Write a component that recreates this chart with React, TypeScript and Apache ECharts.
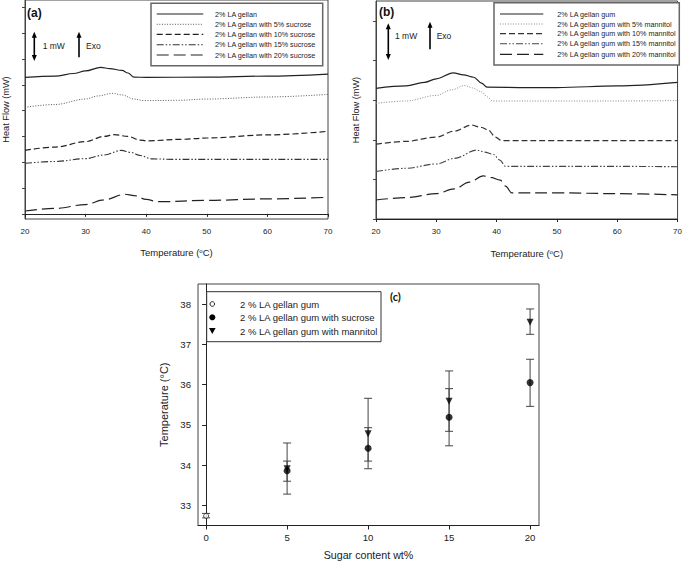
import React, { useEffect, useRef } from "react";
import * as echarts from "echarts";

// ---------- Panel (a): DSC curves, sucrose ----------
const namesA = [
  "2% LA gellan",
  "2% LA gellan with 5% sucrose",
  "2% LA gellan with 10% sucrose",
  "2% LA gellan with 15% sucrose",
  "2% LA gellan with 20% sucrose",
];
const a0T = [20, 25, 28, 30, 32.5, 34, 36, 37, 38, 40, 50, 60, 70];
const a0H = [5.29, 5.34, 5.44, 5.54, 5.68, 5.63, 5.56, 5.46, 5.3, 5.29, 5.3, 5.34, 5.42];
const a1T = [20, 25, 30, 32, 34.4, 36, 38, 39.5, 45, 50, 60, 70];
const a1H = [4.13, 4.24, 4.45, 4.57, 4.67, 4.61, 4.45, 4.39, 4.4, 4.45, 4.53, 4.63];
const a2T = [20, 25, 30, 33, 34.7, 37, 39, 40, 46, 50, 60, 70];
const a2H = [2.46, 2.59, 2.8, 3.0, 3.07, 3.0, 2.86, 2.83, 2.89, 2.94, 3.06, 3.2];
const a3T = [20, 25, 30, 33, 35.9, 37.5, 39, 40.9, 45, 50, 60, 70];
const a3H = [1.96, 2.03, 2.14, 2.28, 2.46, 2.38, 2.26, 2.13, 2.11, 2.11, 2.11, 2.11];
const a4T = [20, 25, 30, 33, 36.5, 38, 40, 42, 50, 60, 70];
const a4H = [0.11, 0.21, 0.36, 0.54, 0.76, 0.71, 0.56, 0.47, 0.52, 0.58, 0.64];

// ---------- Panel (b): DSC curves, mannitol ----------
const namesB = [
  "2% LA gellan gum",
  "2% LA gellan gum with 5% mannitol",
  "2% LA gellan gum with 10% mannitol",
  "2% LA gellan gum with 15% mannitol",
  "2% LA gellan gum with 20% mannitol",
];
const b0T = [20, 25, 28, 30, 32.8, 34.5, 36.2, 37.5, 38.4, 45, 50, 60, 70];
const b0H = [3.3, 3.36, 3.45, 3.54, 3.69, 3.64, 3.58, 3.43, 3.33, 3.32, 3.32, 3.36, 3.45];
const b1T = [20, 25, 30, 32.5, 34.7, 36, 37.5, 38.5, 39.3, 50, 60, 70];
const b1H = [2.92, 2.98, 3.12, 3.26, 3.37, 3.31, 3.21, 3.08, 2.98, 2.98, 2.98, 2.99];
const b2T = [20, 25, 30, 33, 35.8, 37.5, 38.6, 39.8, 40.8, 50, 60, 70];
const b2H = [1.89, 1.96, 2.07, 2.22, 2.37, 2.31, 2.25, 2.07, 1.98, 1.98, 1.98, 1.98];
const b3T = [20, 25, 30, 33, 36.7, 38, 39.5, 40.5, 41.5, 50, 60, 70];
const b3H = [1.2, 1.28, 1.39, 1.53, 1.74, 1.69, 1.63, 1.49, 1.33, 1.33, 1.33, 1.32];
const b4T = [20, 25, 30, 33, 35.5, 37.8, 39, 40.6, 41.5, 42.5, 50, 60, 70];
const b4H = [0.48, 0.54, 0.64, 0.76, 0.93, 1.09, 1.05, 0.98, 0.83, 0.66, 0.66, 0.64, 0.61];

const tempTicks = [20, 30, 40, 50, 60, 70];
const hfTicksA = [0, 1, 2, 3, 4, 5, 6, 7, 8];
const hfTicksB = [0, 1, 2, 3, 4, 5];

// ---------- Panel (c): peak temperatures ----------
const sugarContent = [5, 10, 15, 20];
const controlContent = [0];
const controlMean = [32.74];
const controlLo = [32.69];
const controlHi = [32.8];
const sucroseMean = [33.86, 34.42, 35.19, 36.05];
const sucroseLo = [33.6, 33.91, 34.48, 35.46];
const sucroseHi = [34.1, 34.93, 35.9, 36.63];
const mannitolMean = [33.91, 34.78, 35.59, 37.55];
const mannitolLo = [33.28, 34.1, 34.84, 37.25];
const mannitolHi = [34.55, 35.66, 36.34, 37.88];
const cXTicks = [0, 5, 10, 15, 20];
const cYTicks = [33, 34, 35, 36, 37, 38];
const namesC = [
  "2 % LA gellan gum",
  "2 % LA gellan gum with sucrose",
  "2 % LA gellan gum with mannitol",
];

const FONT = "'Liberation Sans', Arial, sans-serif";

const lineStyles = [
  { type: "solid", color: "#222", width: 1.2 },
  { type: [1, 1.6], color: "#555", width: 1 },
  { type: [6, 3], color: "#222", width: 1.2 },
  { type: [7, 2, 1.5, 2, 1.5, 2], color: "#333", width: 1.1 },
  { type: [12, 5], color: "#222", width: 1.2 },
];
const lineStylesB = [
  { type: "solid", color: "#222", width: 1.2 },
  { type: [1, 1.6], color: "#888", width: 1 },
  { type: [6, 3], color: "#333", width: 1.2 },
  { type: [7, 2, 1.5, 2, 1.5, 2], color: "#444", width: 1.1 },
  { type: [12, 5], color: "#222", width: 1.2 },
];

const zip = (xs: number[], ys: number[]) => xs.map((x, i) => [x, ys[i]]);
const zip3 = (xs: number[], a: number[], b: number[]) => xs.map((x, i) => [x, a[i], b[i]]);

function errRender(params: any, api: any) {
  const x = api.value(0);
  const p1 = api.coord([x, api.value(1)]);
  const p2 = api.coord([x, api.value(2)]);
  const hw = 4;
  const st = { stroke: "#444", lineWidth: 1 };
  return {
    type: "group",
    children: [
      { type: "line", shape: { x1: p1[0], y1: p1[1], x2: p2[0], y2: p2[1] }, style: st },
      { type: "line", shape: { x1: p1[0] - hw, y1: p1[1], x2: p1[0] + hw, y2: p1[1] }, style: st },
      { type: "line", shape: { x1: p2[0] - hw, y1: p2[1], x2: p2[0] + hw, y2: p2[1] }, style: st },
    ],
  };
}

function arrow(x: number, y1: number, y2: number, both: boolean) {
  const els: any[] = [
    { type: "line", shape: { x1: x, y1: y1 + 3, x2: x, y2: both ? y2 - 3 : y2 }, style: { stroke: "#000", lineWidth: 1.6 } },
    { type: "polygon", shape: { points: [[x, y1], [x - 2.5, y1 + 6], [x + 2.5, y1 + 6]] }, style: { fill: "#000" } },
  ];
  if (both) {
    els.push({ type: "polygon", shape: { points: [[x, y2], [x - 2.5, y2 - 6], [x + 2.5, y2 - 6]] }, style: { fill: "#000" } });
  }
  return els;
}

function legendBox(x: number, y: number, w: number, h: number, lx1: number, lx2: number, tx: number, rows: number[], names: string[], styles: any[]) {
  const els: any[] = [
    { type: "rect", shape: { x, y, width: w, height: h }, style: { fill: "#fff", stroke: "#666", lineWidth: 1.5 }, z: 10 },
  ];
  rows.forEach((ry, i) => {
    els.push({
      type: "line",
      shape: { x1: lx1, y1: ry, x2: lx2, y2: ry },
      style: { stroke: styles[i].color, lineWidth: styles[i].width, lineDash: styles[i].type === "solid" ? null : styles[i].type },
      z: 11,
    });
    els.push({
      type: "text",
      x: tx,
      y: ry,
      style: { text: names[i], fontSize: 7.2, fontFamily: FONT, fill: "#222", verticalAlign: "middle" },
      z: 11,
    });
  });
  return els;
}

export default function App() {
  const ref = useRef<HTMLDivElement>(null);
  useEffect(() => {
    if (!ref.current) return;
    const chart = echarts.init(ref.current, null, { renderer: "svg" });
    const seriesA = [zip(a0T, a0H), zip(a1T, a1H), zip(a2T, a2H), zip(a3T, a3H), zip(a4T, a4H)];
    const seriesB = [zip(b0T, b0H), zip(b1T, b1H), zip(b2T, b2H), zip(b3T, b3H), zip(b4T, b4H)];

    const tempName = (fs: number) => ({
      name: "Temperature ({sup|o}C)",
      nameLocation: "middle",
      nameTextStyle: {
        fontSize: fs,
        fontFamily: FONT,
        color: "#222",
        rich: { sup: { fontSize: fs * 0.65, fontFamily: FONT, color: "#222", verticalAlign: "top", lineHeight: fs * 1.2 } },
      },
    });

    const hfAxisCommon = {
      type: "value",
      name: "Heat Flow (mW)",
      nameLocation: "middle",
      nameTextStyle: { fontSize: 9.2, fontFamily: FONT, color: "#222" },
      axisLine: { show: true, lineStyle: { color: "#444", width: 1 } },
      axisLabel: { show: false },
      splitLine: { show: false },
    };

    const option: any = {
      animation: false,
      backgroundColor: "#fff",
      textStyle: { fontFamily: FONT },
      grid: [
        { left: 25, top: 0, width: 303, height: 219, show: true, borderColor: "#444", borderWidth: 1 },
        { left: 376, top: 1, width: 304, height: 218, show: true, borderColor: "#444", borderWidth: 1 },
        { left: 198, top: 284, width: 341, height: 241.5, show: true, borderColor: "#444", borderWidth: 1 },
      ],
      xAxis: [
        {
          gridIndex: 0, type: "value", min: 20, max: 70, interval: 10,
          ...tempName(9.5), nameGap: 28,
          axisLine: { lineStyle: { color: "#222" } },
          axisTick: { length: 3, lineStyle: { color: "#222" } },
          axisLabel: { fontSize: 8, color: "#222", margin: 8 },
          splitLine: { show: false },
        },
        {
          gridIndex: 1, type: "value", min: 20, max: 70, interval: 10,
          ...tempName(9.5), nameGap: 29,
          axisLine: { lineStyle: { color: "#222" } },
          axisTick: { length: 3, lineStyle: { color: "#222" } },
          axisLabel: { fontSize: 8, color: "#222", margin: 8 },
          splitLine: { show: false },
        },
        {
          gridIndex: 2, type: "value", min: -0.5, max: 20.55,
          name: "Sugar content wt%", nameLocation: "middle", nameGap: 24,
          nameTextStyle: { fontSize: 10.7, fontFamily: FONT, color: "#222" },
          axisLine: { lineStyle: { color: "#222" } },
          axisTick: { length: 4, lineStyle: { color: "#222" }, customValues: cXTicks },
          axisLabel: { fontSize: 9.6, color: "#222", margin: 7, customValues: cXTicks },
          splitLine: { show: false },
        },
      ],
      yAxis: [
        {
          gridIndex: 0, min: -0.2, max: 8.29, nameGap: 15, ...hfAxisCommon,
          axisTick: { length: 3, lineStyle: { color: "#444" }, customValues: hfTicksA },
        },
        {
          gridIndex: 1, min: 0, max: 5.505, nameGap: 16, ...hfAxisCommon,
          axisTick: { length: 3, lineStyle: { color: "#444" }, customValues: hfTicksB },
        },
        {
          gridIndex: 2, type: "value", min: 32.5, max: 38.5,
          name: "Temperature (°C)", nameLocation: "middle", nameGap: 29,
          nameTextStyle: { fontSize: 11, fontFamily: FONT, color: "#222" },
          axisLine: { show: true, lineStyle: { color: "#222" } },
          axisTick: { length: 4, lineStyle: { color: "#222" }, customValues: cYTicks },
          axisLabel: { fontSize: 9.6, color: "#222", margin: 7, customValues: cYTicks },
          splitLine: { show: false },
        },
      ],
      series: [
        ...seriesA.map((d, i) => ({
          type: "line", name: namesA[i], xAxisIndex: 0, yAxisIndex: 0, data: d,
          showSymbol: false, smooth: 0.35, smoothMonotone: "x",
          lineStyle: lineStyles[i],
        })),
        ...seriesB.map((d, i) => ({
          type: "line", name: namesB[i], xAxisIndex: 1, yAxisIndex: 1, data: d,
          showSymbol: false, smooth: 0.35, smoothMonotone: "x",
          lineStyle: lineStylesB[i],
        })),
        {
          type: "custom", xAxisIndex: 2, yAxisIndex: 2, renderItem: errRender,
          encode: { x: 0, y: [1, 2] },
          data: [
            ...zip3(controlContent, controlLo, controlHi),
            ...zip3(sugarContent, sucroseLo, sucroseHi),
            ...zip3(sugarContent, mannitolLo, mannitolHi),
          ],
          z: 2,
        },
        {
          type: "scatter", name: namesC[0], xAxisIndex: 2, yAxisIndex: 2,
          data: zip(controlContent, controlMean), symbol: "circle", symbolSize: 5,
          itemStyle: { color: "#fff", borderColor: "#222", borderWidth: 1 }, z: 3,
        },
        {
          type: "scatter", name: namesC[1], xAxisIndex: 2, yAxisIndex: 2,
          data: zip(sugarContent, sucroseMean), symbol: "circle", symbolSize: 7,
          itemStyle: { color: "#000" }, z: 3,
        },
        {
          type: "scatter", name: namesC[2], xAxisIndex: 2, yAxisIndex: 2,
          data: zip(sugarContent, mannitolMean), symbol: "triangle", symbolRotate: 180, symbolSize: 7,
          itemStyle: { color: "#000" }, z: 3,
        },
      ],
      graphic: [
        // panel (a)
        { type: "text", x: 27, y: 12.7, style: { text: "(a)", fontSize: 12, fontWeight: "bold", fontFamily: FONT, fill: "#111", verticalAlign: "middle" } },
        ...arrow(34.3, 31.7, 61, true),
        { type: "text", x: 42.7, y: 45.7, style: { text: "1 mW", fontSize: 8.5, fontFamily: FONT, fill: "#222", verticalAlign: "middle" } },
        ...arrow(79, 31.7, 57.3, false),
        { type: "text", x: 86, y: 45.7, style: { text: "Exo", fontSize: 8.5, fontFamily: FONT, fill: "#222", verticalAlign: "middle" } },
        ...legendBox(151, 3.3, 171.7, 62.4, 156.7, 203.3, 215, [14, 24.3, 34.3, 44.7, 55], namesA, lineStyles),
        // panel (b)
        { type: "text", x: 379, y: 11.7, style: { text: "(b)", fontSize: 12, fontWeight: "bold", fontFamily: FONT, fill: "#111", verticalAlign: "middle" } },
        ...arrow(388.3, 23.3, 60, true),
        { type: "text", x: 395, y: 36, style: { text: "1 mW", fontSize: 8.5, fontFamily: FONT, fill: "#222", verticalAlign: "middle" } },
        ...arrow(430, 21.7, 49.3, false),
        { type: "text", x: 436.7, y: 36, style: { text: "Exo", fontSize: 8.5, fontFamily: FONT, fill: "#222", verticalAlign: "middle" } },
        ...legendBox(494, 2.7, 185.3, 62.3, 500, 543.3, 557.3, [14, 24, 33.7, 43.7, 54.3], namesB, lineStylesB),
        // panel (c)
        { type: "text", x: 390, y: 296.7, style: { text: "(c)", fontSize: 11, fontWeight: "bold", fontFamily: "Lato, sans-serif", fill: "#111", verticalAlign: "middle" } },
        { type: "rect", shape: { x: 206.7, y: 291.7, width: 174.3, height: 50 }, style: { fill: "#fff", stroke: "#333", lineWidth: 1 }, z: 10 },
        { type: "circle", shape: { cx: 212.3, cy: 304, r: 2.3 }, style: { fill: "#fff", stroke: "#222", lineWidth: 1 }, z: 11 },
        { type: "circle", shape: { cx: 212.3, cy: 317.3, r: 3 }, style: { fill: "#000" }, z: 11 },
        { type: "polygon", shape: { points: [[209, 328], [215.6, 328], [212.3, 334]] }, style: { fill: "#000" }, z: 11 },
        ...namesC.map((n, i) => ({
          type: "text", x: 240, y: [304, 317.3, 331][i], z: 11,
          style: { text: n, fontSize: 9.5, fontFamily: FONT, fill: "#222", verticalAlign: "middle" },
        })),
      ],
    };
    chart.setOption(option);
    return () => chart.dispose();
  }, []);
  return (
    <div
      ref={ref}
      style={{ position: "absolute", left: 0, top: 0, width: 685, height: 567, background: "#fff" }}
    />
  );
}
